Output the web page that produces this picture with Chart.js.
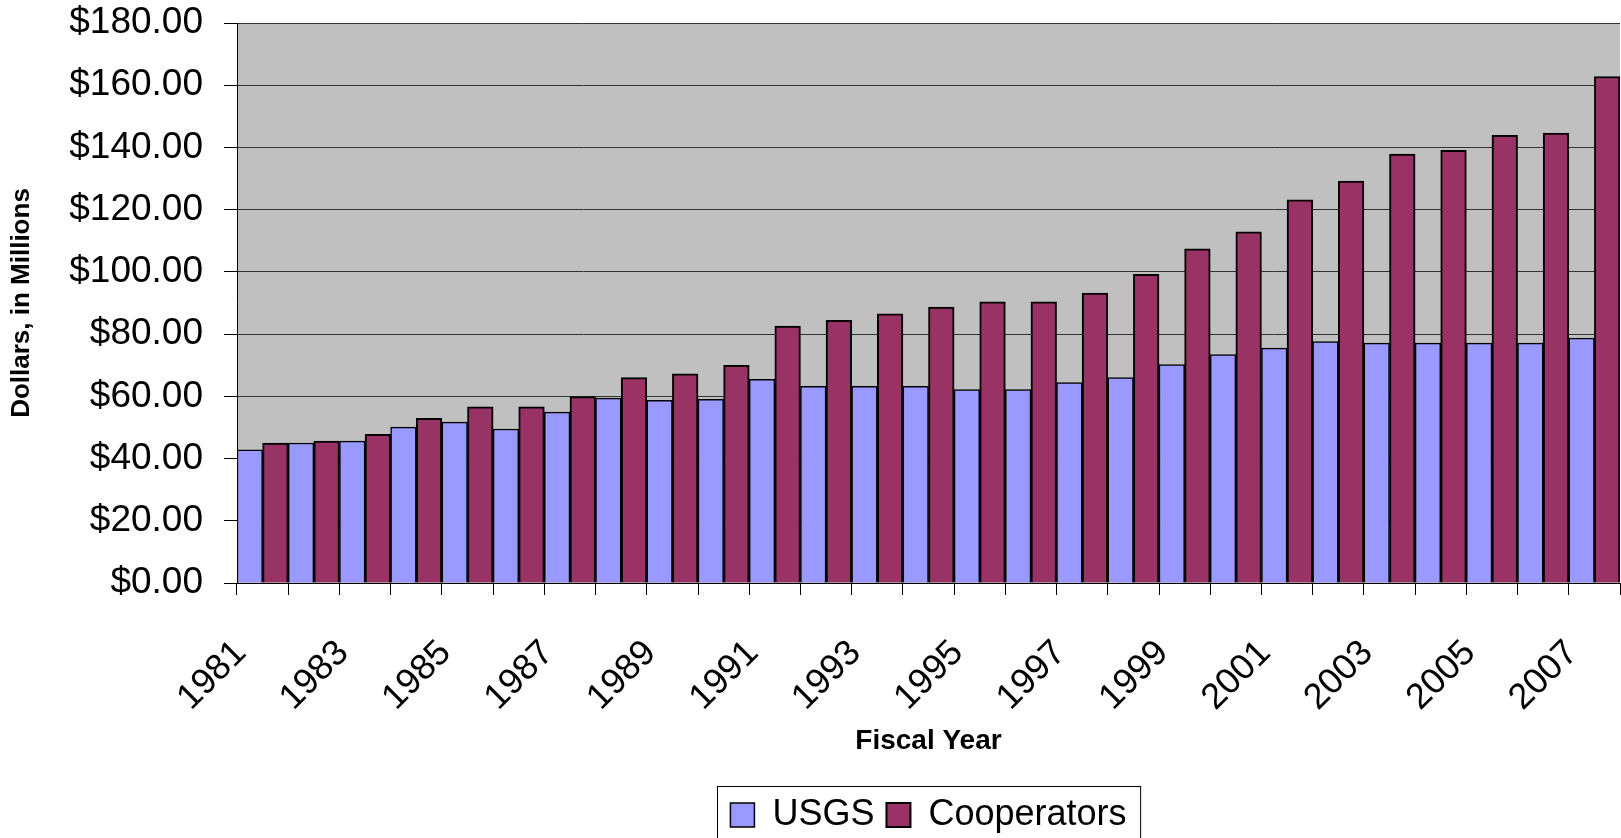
<!DOCTYPE html>
<html>
<head>
<meta charset="utf-8">
<title>USGS and Cooperators funding</title>
<script src="https://cdn.jsdelivr.net/npm/chart.js@4.4.1/dist/chart.umd.min.js"></script>
<style>
    html, body { margin: 0; padding: 0; background: #ffffff; }
    #wrap { width: 1621px; height: 838px; }
</style>
</head>
<body>
<div id="wrap"><canvas id="grafik" width="1621" height="838"></canvas></div>
<script>
// Data (dollars, in millions)
const tahun = ["1981", "1982", "1983", "1984", "1985", "1986", "1987", "1988", "1989", "1990",
    "1991", "1992", "1993", "1994", "1995", "1996", "1997", "1998", "1999", "2000",
    "2001", "2002", "2003", "2004", "2005", "2006", "2007"];
const usgs = [42.8, 45.0, 45.6, 50.1, 51.7, 49.5, 54.9, 59.4, 58.7, 59.0,
    65.5, 63.2, 63.2, 63.2, 62.2, 62.2, 64.4, 66.0, 70.2, 73.4,
    75.5, 77.6, 77.1, 77.1, 77.1, 77.1, 78.7];
const cooperators = [45.0, 45.6, 47.8, 52.9, 56.6, 56.6, 59.9, 66.0, 67.2, 70.0,
    82.6, 84.4, 86.5, 88.7, 90.4, 90.4, 93.2, 99.2, 107.4, 112.9,
    123.2, 129.2, 137.9, 139.1, 143.9, 144.6, 162.8];
const yTicks = [0, 20, 40, 60, 80, 100, 120, 140, 160, 180];

const FONT = "'Liberation Sans', Arial, sans-serif";

// Grey plot background
const latarAbu = {
    id: "latarAbu",
    beforeDraw(chart) {
        const a = chart.chartArea;
        const ctx = chart.ctx;
        ctx.save();
        ctx.fillStyle = "#c0c0c0";
        ctx.fillRect(a.left, a.top, a.right - a.left, a.bottom - a.top);
        ctx.restore();
    }
};

// Frame round the legend
const bingkaiLegend = {
    id: "bingkaiLegend",
    afterDraw(chart) {
        const lg = chart.legend;
        if (!lg || !lg.legendHitBoxes.length) return;
        const boxes = lg.legendHitBoxes;
        const kiri = Math.min(...boxes.map(b => b.left)) - 13;
        const kanan = Math.max(...boxes.map(b => b.left + b.width)) + 14;
        const ctx = chart.ctx;
        ctx.save();
        ctx.strokeStyle = "#000";
        ctx.lineWidth = 1;
        ctx.strokeRect(Math.round(kiri) + 0.5, Math.round(lg.top) + 1.5, kanan - kiri, 70);
        ctx.restore();
    }
};

new Chart(document.getElementById("grafik").getContext("2d"), {
    type: "bar",
    data: {
        labels: tahun,
        datasets: [{
            label: "USGS",
            data: usgs,
            backgroundColor: "#9999ff",
            borderColor: "#000",
            borderWidth: 1.5,
            categoryPercentage: 1.0,
            barPercentage: 1.0
        }, {
            label: "Cooperators",
            data: cooperators,
            backgroundColor: "#993366",
            borderColor: "#000",
            borderWidth: 2,
            categoryPercentage: 1.0,
            barPercentage: 1.0
        }]
    },
    options: {
        responsive: false,
        animation: false,
        layout: { padding: { top: 23, right: 1, left: 0, bottom: -5 } },
        plugins: {
            tooltip: { enabled: false },
            legend: {
                position: "bottom",
                fullSize: false,
                labels: {
                    color: "#000",
                    font: { family: FONT, size: 36 },
                    boxWidth: 24,
                    boxHeight: 24,
                    padding: 12
                }
            }
        },
        scales: {
            x: {
                afterFit: s => {
                    s.height = 202;
                    s.paddingLeft = 0;
                    s.paddingRight = 0;
                },
                grid: {
                    offset: true,
                    drawOnChartArea: false,
                    tickLength: 12,
                    tickColor: "#000"
                },
                border: { color: "#000", width: 1 },
                ticks: {
                    autoSkip: false,
                    maxRotation: 45,
                    minRotation: 45,
                    padding: 37,
                    labelOffset: -22,
                    color: "#000",
                    font: { family: FONT, size: 36 },
                    callback: (v, i) => (i % 2 === 0 ? tahun[i] : "")
                },
                title: {
                    display: true,
                    text: "Fiscal Year",
                    color: "#000",
                    font: { family: FONT, size: 28, weight: "bold" },
                    padding: { top: 0, bottom: 27 }
                }
            },
            y: {
                min: 0,
                max: 180,
                afterFit: s => {
                    s.width = 237;
                    s.paddingTop = 0;
                    s.paddingBottom = 0;
                },
                afterBuildTicks: s => { s.ticks = yTicks.map(v => ({ value: v })); },
                grid: {
                    color: "#333",
                    lineWidth: 1,
                    tickLength: 13,
                    tickColor: "#000"
                },
                border: { color: "#000", width: 1 },
                ticks: {
                    padding: 21,
                    color: "#000",
                    font: { family: FONT, size: 37 },
                    callback: v => "$" + v.toFixed(2)
                },
                title: {
                    display: true,
                    text: "Dollars, in Millions",
                    color: "#000",
                    font: { family: FONT, size: 26, weight: "bold" },
                    padding: { top: 6, bottom: 0 }
                }
            }
        }
    },
    plugins: [latarAbu, bingkaiLegend]
});
</script>
</body>
</html>
